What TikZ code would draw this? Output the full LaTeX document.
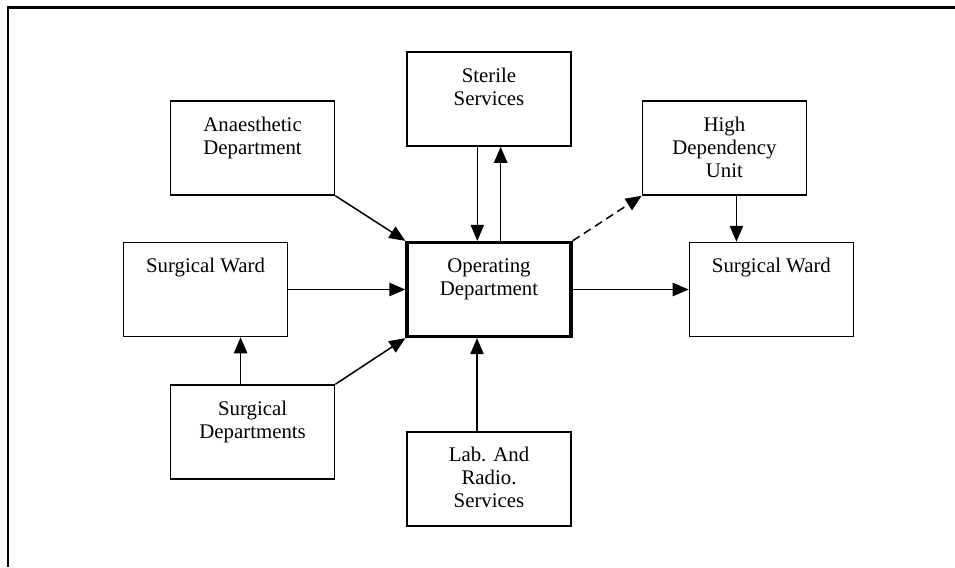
\documentclass[tikz,border=0pt]{standalone}
\usepackage{fontspec}
\setmainfont{Liberation Serif}
\usetikzlibrary{positioning}
\usetikzlibrary{arrows.meta}
\newcommand{\Unittext}[1]{\parbox[c][56.4pt][t]{98.4pt}{\centering\rule{0pt}{18pt}#1}}
\tikzstyle{unit} = [rectangle,draw=black,line width=0.9pt,inner sep=0pt,minimum width=98.4pt,minimum height=56.4pt, font=\fontsize{12.5}{13.8}\selectfont]

\begin{document}
\begin{tikzpicture}[flow/.style={-{Triangle[length=9.6pt,width=8pt]},line width=0.9pt}]
\useasboundingbox (0,0) rectangle (573pt,-340.2pt);
% frame
\draw[line width=1.4pt] (4.8pt,-340.2pt) -- (4.8pt,-4.4pt) -- (573pt,-4.4pt);

% Define nodes
\node[unit, line width=2pt] at (293.4pt,-173.7pt)         (op)    {\Unittext{Operating\\Department}};
\node[unit, above = 56.4pt of op]                         (ster)  {\Unittext{Sterile\\Services}};
\node[unit, below = 55.8pt of op]                         (lab)   {\Unittext{Lab. And\\Radio.\\Services}};
\node[unit, left  = 70.2pt of op]                         (wardL) {\Unittext{Surgical Ward}};
\node[unit, right = 69.6pt of op]                         (wardR) {\Unittext{Surgical Ward}};
\node[unit, above = 27.6pt of wardL, xshift=28.2pt]       (anaes) {\Unittext{Anaesthetic\\Department}};
\node[unit, above = 27.6pt of wardR, xshift=-28.2pt]      (hdu)   {\Unittext{High\\Dependency\\Unit}};
\node[unit, below = 28.2pt of wardL, xshift=28.2pt]       (sdep)  {\Unittext{Surgical\\Departments}};

% Edges
\draw[flow] (anaes.south east) -- (op.north west);
\draw[flow] ([xshift=-7pt]ster.south) -- ([xshift=-7pt]op.north);
\draw[flow] ([xshift=7pt]op.north) -- ([xshift=7pt]ster.south);
\draw[flow, dash pattern=on 5pt off 3pt] (op.north east) -- (hdu.south west);
\draw[flow] ([xshift=7.2pt]hdu.south) -- ([xshift=7.2pt]hdu.south |- wardR.north);
\draw[flow] (op.east) -- (wardR.west);
\draw[flow] (wardL.east) -- (op.west);
\draw[flow] ([xshift=-7.2pt]sdep.north) -- ([xshift=-7.2pt]sdep.north |- wardL.south);
\draw[flow] (sdep.north east) -- (op.south west);
\draw[flow] ([xshift=-7.2pt]lab.north) -- ([xshift=-7.2pt]op.south);
\end{tikzpicture}
\end{document}
